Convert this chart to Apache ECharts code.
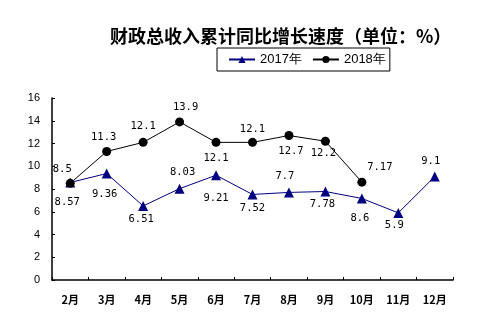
<!DOCTYPE html>
<html>
<head>
<meta charset="utf-8">
<script src="https://cdn.jsdelivr.net/npm/echarts@6/dist/echarts.min.js"></script>
<style>html,body{margin:0;padding:0;background:#fff}#c{width:486px;height:332px}</style>
</head>
<body>
<div id="c"></div>
<script>
var categories = ['2月','3月','4月','5月','6月','7月','8月','9月','10月','11月','12月'];
var values2017 = [8.57, 9.36, 6.51, 8.03, 9.21, 7.52, 7.7, 7.78, 7.17, 5.9, 9.1];
var values2018 = [8.5, 11.3, 12.1, 13.9, 12.1, 12.1, 12.7, 12.2, 8.6];
var labels2017 = ['8.57','9.36','6.51','8.03','9.21','7.52','7.7','7.78','8.6','5.9','9.1'];
var labels2018 = ['8.5','11.3','12.1','13.9','12.1','12.1','12.7','12.2','7.17'];
var yTicks = [0, 2, 4, 6, 8, 10, 12, 14, 16];

// label offsets (style only)
var off2017 = [[-3,20],[-2,21],[-2,13],[3,-16],[0,23],[0,14],[-4,-16],[-3,13],[-2,20],[-4,12],[-4,-15]];
var off2018 = [[-8,-14],[-3,-14],[0,-16],[6,-15],[0,16],[0,-13],[2,16],[-2,12],[18,-15]];

function build(vals, labs, offs) {
  return vals.map(function (v, i) {
    return {
      value: v,
      label: { show: true, position: 'inside', offset: offs[i], formatter: labs[i] }
    };
  });
}
var labelFont = { color: '#000', fontSize: 10.5, fontFamily: 'DejaVu Sans Mono', align: 'center', verticalAlign: 'middle' };

var chart = echarts.init(document.getElementById('c'));
chart.setOption({
  animation: false,
  backgroundColor: '#fff',
  title: {
    text: '财政总收入累计同比增长速度（单位：%）',
    left: 105, top: 22,
    textStyle: { fontSize: 18, fontWeight: 'bold', color: '#000', fontFamily: 'Noto Sans CJK SC' }
  },
  legend: {
    left: 217, top: 48,
    borderColor: '#000', borderWidth: 1,
    padding: [5, 4, 5, 11],
    itemGap: 10, itemWidth: 26, itemHeight: 9,
    textStyle: { fontSize: 13, color: '#000', fontFamily: 'Liberation Sans' },
    data: ['2017年', '2018年']
  },
  grid: { left: 52, right: 33, top: 98, bottom: 52 },
  xAxis: {
    type: 'category', data: categories, boundaryGap: true,
    axisLine: { lineStyle: { color: '#000', width: 1.5 } },
    axisTick: { show: true, inside: true, length: 3, lineStyle: { color: '#000' } },
    axisLabel: { color: '#000', fontSize: 11, margin: 14, fontWeight: 'bold', fontFamily: 'Noto Sans CJK SC' }
  },
  yAxis: {
    type: 'value', min: yTicks[0], max: yTicks[yTicks.length - 1], interval: 2,
    axisLine: { show: true, lineStyle: { color: '#000', width: 1.5 } },
    axisTick: { show: true, inside: true, length: 3, lineStyle: { color: '#000' } },
    splitLine: { show: false },
    axisLabel: { color: '#000', fontSize: 11, margin: 12, fontFamily: 'Liberation Sans' }
  },
  series: [
    {
      name: '2017年', type: 'line',
      data: build(values2017, labels2017, off2017),
      symbol: 'triangle', symbolSize: 10,
      itemStyle: { color: '#000080' },
      lineStyle: { color: '#000080', width: 1 },
      label: labelFont,
      z: 2
    },
    {
      name: '2018年', type: 'line',
      data: build(values2018, labels2018, off2018),
      symbol: 'circle', symbolSize: 9,
      itemStyle: { color: '#000' },
      lineStyle: { color: '#000', width: 1 },
      label: labelFont,
      z: 3
    }
  ]
});
</script>
</body>
</html>
